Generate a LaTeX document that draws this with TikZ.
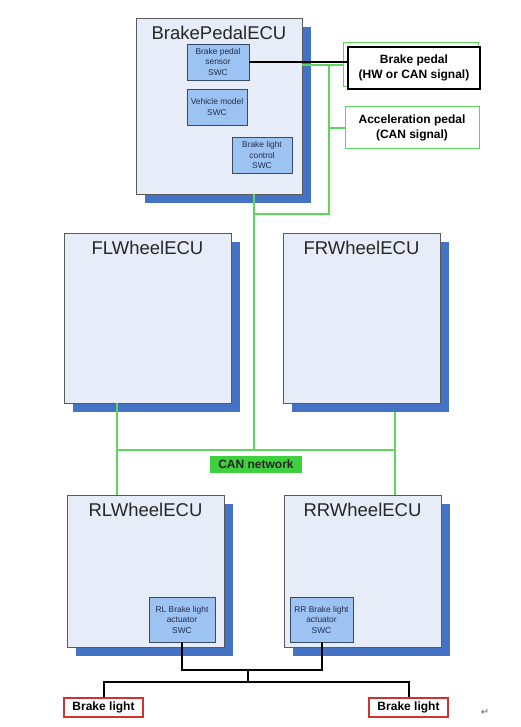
\documentclass[tikz,border=0pt]{standalone}
\usepackage{fontspec}
\setmainfont{Liberation Sans}
\newfontfamily\symfont{DejaVu Sans}
\usetikzlibrary{positioning,shadows}
\definecolor{ecufill}{HTML}{E6EDF8}
\definecolor{ecuborder}{HTML}{5A5A5A}
\definecolor{shadowblue}{HTML}{4472C4}
\definecolor{swcfill}{HTML}{9DC3F2}
\definecolor{swcborder}{HTML}{3A4A66}
\definecolor{swctext}{HTML}{1F2D4D}
\definecolor{canline}{HTML}{5CD65C}
\definecolor{canfill}{HTML}{3FCF3F}
\definecolor{lampred}{HTML}{CC3333}
\tikzset{
  ecu/.style={draw=ecuborder,fill=ecufill,line width=0.8pt,
    drop shadow={shadow xshift=9pt,shadow yshift=-9pt,fill=shadowblue,opacity=1}},
  ecutitle/.style={inner sep=0pt,text=black!85,font=\fontsize{18.5}{20}\selectfont},
  swc/.style={draw=swcborder,fill=swcfill,line width=0.8pt,align=center,inner sep=1pt,
    text=swctext,font=\fontsize{8.4}{10.5}\selectfont},
  signal/.style={align=center,inner sep=1pt,font=\fontsize{12}{15.5}\selectfont\bfseries},
  canwire/.style={draw=canline,line width=1.5pt},
  wire/.style={draw=black,line width=2pt}
}
\begin{document}
\begin{tikzpicture}[x=1pt,y=-1pt]
\useasboundingbox (0,0) rectangle (520,727);
% ECUs
\node[ecu,minimum width=166pt,minimum height=176pt] (bp) at (219,106) {};
\node[ecu,minimum width=167pt,minimum height=170pt] (fl) at (147.5,318) {};
\node[ecu,minimum width=157pt,minimum height=170pt] (fr) at (361.5,318) {};
\node[ecu,minimum width=157pt,minimum height=152pt] (rl) at (145.5,571) {};
\node[ecu,minimum width=157pt,minimum height=152pt] (rr) at (362.5,571) {};
\node[ecutitle,below=8pt of bp.north] (bptitle) {BrakePedalECU};
\node[ecutitle,below=8pt of fl.north] (fltitle) {FLWheelECU};
\node[ecutitle,below=8pt of fr.north] (frtitle) {FRWheelECU};
\node[ecutitle,below=8pt of rl.north] (rltitle) {RLWheelECU};
\node[ecutitle,below=8pt of rr.north] (rrtitle) {RRWheelECU};
% SWCs
\node[swc,minimum width=62pt,minimum height=36pt] (sensor) at (218,62) {Brake pedal\\sensor\\SWC};
\node[swc,minimum width=60pt,minimum height=36pt] (vehicle) at (217,107) {Vehicle model\\SWC};
\node[swc,minimum width=60pt,minimum height=36pt] (ctrl) at (262,155) {Brake light\\control\\SWC};
\node[swc,minimum width=66pt,minimum height=45pt] (rlact) at (182,619.5) {RL Brake light\\actuator\\SWC};
\node[swc,minimum width=63pt,minimum height=45pt] (rract) at (321.5,619.5) {RR Brake light\\actuator\\SWC};
% signals
\node[draw=canline,line width=1pt,minimum width=135pt,minimum height=44pt] (bpedalbg) at (410.5,65) {};
\node[signal,draw=black,fill=white,line width=1.5pt,minimum width=132pt,minimum height=42pt] (bpedal) at (414,68) {Brake pedal\\(HW or CAN signal)};
\node[signal,draw=canline,line width=1pt,minimum width=134pt,minimum height=42pt] (accel) at (412,128) {Acceleration pedal\\(CAN signal)};
\node[signal,fill=canfill,text=black!85,minimum width=92pt,minimum height=17pt] (canlbl) at (256,464.5) {CAN network};
\node[signal,draw=lampred,line width=1.2pt,minimum width=79pt,minimum height=19pt] (lampL) at (103.5,707.5) {Brake light};
\node[signal,draw=lampred,line width=1.2pt,minimum width=79pt,minimum height=19pt] (lampR) at (408.5,707.5) {Brake light};
\node[text=black!60,inner sep=0pt,font=\symfont\fontsize{10}{10}\selectfont] (pmark) at (485,712) {↵};
% CAN network
\coordinate (busL) at (117,450);
\coordinate (busR) at (395,450);
\coordinate (busC) at (254,450);
\coordinate (tap) at (329,65);
\coordinate (tapB) at (329,214);
\draw[canwire] (busL) -- (busR);
\draw[canwire] (fl.south -| busL) -- (rl.north -| busL);
\draw[canwire] ([yshift=-9pt]fr.south -| busR) -- (rr.north -| busR);
\draw[canwire] (bp.south -| busC) -- (busC);
\draw[canwire] (bp.east |- tap) -- (bpedalbg.west |- tap);
\draw[canwire] (tap) -- (tapB) -- (tapB -| busC);
\draw[canwire] (tap |- accel.west) -- (accel.west);
% hardwired
\coordinate (split) at (248,670);
\draw[wire,line width=1.5pt] (sensor.east) -- (sensor.east -| bpedal.west);
\draw[wire] (rlact.south) |- (split) -| (rract.south);
\draw[wire] (lampL.north) -- ++(0,-15) -| (lampR.north);
\draw[wire] (split) -- ++(0,13);
\end{tikzpicture}
\end{document}
